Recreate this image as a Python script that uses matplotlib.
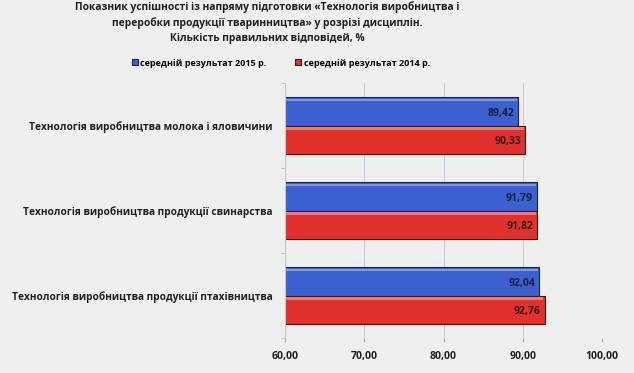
import matplotlib.pyplot as plt
import numpy as np

plt.rcParams['font.family'] = ['Open Sans', 'DejaVu Sans']

# ---------------- data ----------------
categories = ['Технологія виробництва молока і яловичини',
              'Технологія виробництва продукції свинарства',
              'Технологія виробництва продукції птахівництва']
res_2015 = [89.42, 91.79, 92.04]
res_2014 = [90.33, 91.82, 92.76]
labels_2015 = ['89,42', '91,79', '92,04']
labels_2014 = ['90,33', '91,82', '92,76']
xticks = [60, 70, 80, 90, 100]
xtick_labels = ['60,00', '70,00', '80,00', '90,00', '100,00']

bg = '#eef0f0'
fig = plt.figure(figsize=(6.34, 3.73), dpi=100, facecolor=bg)
ax = fig.add_axes([285/634, 1-338/373, (602-285)/634, (338-83)/373], facecolor=bg)

y = np.arange(len(categories))
h = 0.33
b1 = ax.barh(y - h/2, np.array(res_2015) - 60, left=60, height=h, color='#3c60d0',
             edgecolor='#1b2450', linewidth=0.8, label='середній результат 2015 р.')
b2 = ax.barh(y + h/2, np.array(res_2014) - 60, left=60, height=h, color='#e0322c',
             edgecolor='#4a1410', linewidth=0.8, label='середній результат 2014 р.')
# lighter bevel strip on top of bars
ax.barh(y - h + 0.03, np.array(res_2015) - 60.3, left=60.15, height=0.035,
        color='#7f9ae6', linewidth=0)
ax.barh(y + 0.03, np.array(res_2014) - 60.3, left=60.15, height=0.035,
        color='#f07a72', linewidth=0)

for i in range(len(categories)):
    ax.text(res_2015[i] - 0.5, y[i] - h/2 + 0.02, labels_2015[i], ha='right', va='center',
            fontsize=7.5, fontweight='bold', color='#1a2040')
    ax.text(res_2014[i] - 0.5, y[i] + h/2 + 0.02, labels_2014[i], ha='right', va='center',
            fontsize=7.5, fontweight='bold', color='#3a1410')

ax.set_xlim(60, 100)
ax.set_ylim(2.5, -0.5)
ax.set_xticks(xticks)
ax.set_xticklabels(xtick_labels, fontsize=7.6, fontweight='bold', color='#202020')
ax.set_yticks(y)
ax.set_yticklabels(categories, fontsize=7.3, fontweight='bold', color='#202020')
ax.set_yticks([-0.5, 0.5, 1.5, 2.5], minor=True)
ax.tick_params(axis='y', which='major', length=0, pad=9)
ax.tick_params(axis='y', which='minor', length=3, color='#b8b8b8')
ax.tick_params(axis='x', length=3, color='#b0a8b8', pad=6)
ax.grid(axis='x', color='#d0c8d8', linewidth=0.8)
ax.set_axisbelow(True)
for s in ['top', 'right', 'bottom']:
    ax.spines[s].set_visible(False)
ax.spines['left'].set_color('#c8c8c8')

fig.text(267/634, 1-1.5/373, 'Показник успішності із напряму підготовки «Технологія виробництва і\n'
         'переробки продукції тваринництва» у розрізі дисциплін.\n'
         'Кількість правильних відповідей, %', ha='center', va='top',
         fontsize=7.4, fontweight='bold', color='#202020', linespacing=1.45)

fig.legend(handles=[b1, b2], loc='center', bbox_to_anchor=(281/634, 1-63/373), ncol=2,
           frameon=False, prop={'weight': 'bold', 'size': 6.5},
           handlelength=0.6, handleheight=0.6, columnspacing=3.2, handletextpad=0.3)

fig.savefig('out.png', dpi=100, facecolor=bg)
